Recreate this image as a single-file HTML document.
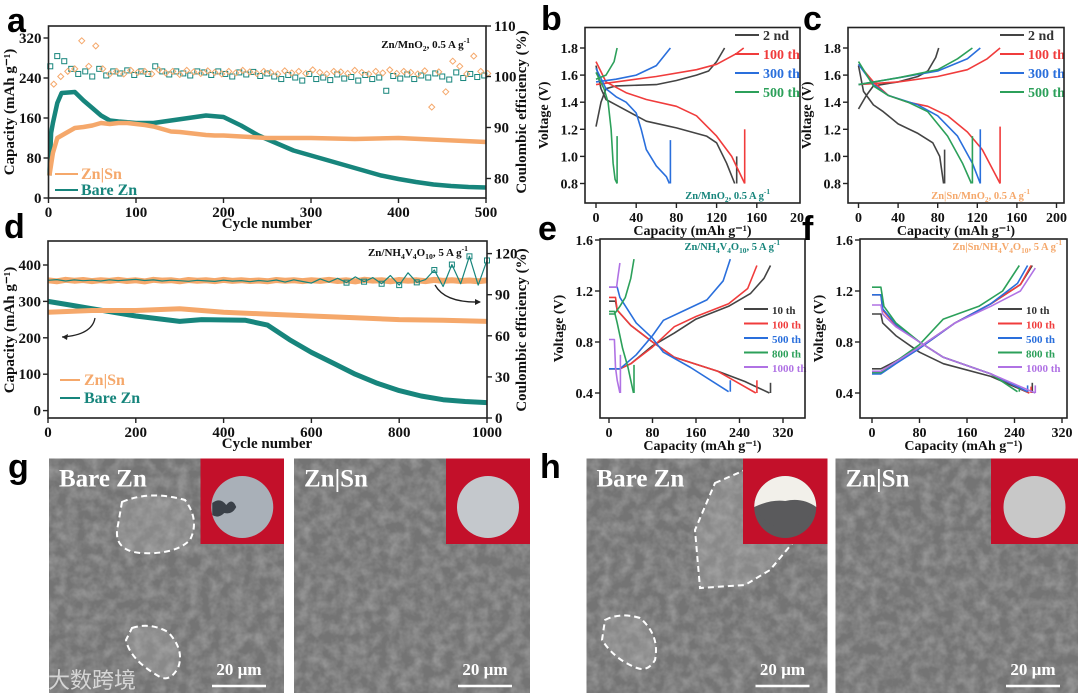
<!DOCTYPE html>
<html><head><meta charset="utf-8"><style>
html,body{margin:0;padding:0;background:#fff}
svg{display:block}
text{font-family:"Liberation Serif","Noto Serif CJK SC",serif;font-weight:bold}
.pl{font-family:"Liberation Sans",sans-serif;font-weight:bold;font-size:34px}
</style></head><body>
<svg id="fig" width="1080" height="697" viewBox="0 0 1080 697" xmlns="http://www.w3.org/2000/svg">
<defs>
<filter id="sem" x="0" y="0" width="100%" height="100%">
<feTurbulence type="fractalNoise" baseFrequency="0.09" numOctaves="3" seed="4"/>
<feColorMatrix type="matrix" values="0 0 0 0 0.45  0 0 0 0 0.45  0 0 0 0 0.45  0 0 0 1.1 -0.35"/>
</filter>
</defs>
<g id="charts"></g>
<g id="sems"></g>
</svg>
<script>
// ---------- DATA ----------
// panel a
const aSnCycles=[1,5,10,20,30,40,50,60,70,80,90,100,110,120,130,140,150,160,170,180,190,200,220,250,300,350,400,450,500];
const aSnCap=[45,90,120,130,140,142,145,150,148,150,150,148,146,143,138,133,132,130,128,126,125,125,123,120,120,118,120,116,112];
const aZnCycles=[1,3,5,10,15,30,40,50,60,70,80,100,120,140,160,180,200,220,240,260,280,300,320,340,360,380,400,420,440,460,480,500];
const aZnCap=[45,130,150,190,210,212,195,180,165,155,153,150,150,155,160,165,162,145,125,110,95,85,75,65,55,45,38,32,27,24,22,21];
const aCeOrange=[98.5,100,101,101.5,107,102,106,101.5,100.5,101,100.5,101.2,100.8,101,100.5,101.3,100.7,101,100.4,101.2,100.9,100.6,101.1,100.8,100.5,101,100.7,101.2,100.9,100.6,101,100.8,100.5,101.1,100.7,101,100.6,101.3,100.8,100.5,101,100.9,100.6,101.2,100.8,100.5,101,100.7,101.3,100.6,101,100.8,100.5,101.1,94,100.9,97,103,102,100.5,104,101,100.6];
const aCeTeal=[102,104,103,101.5,100.5,101,100,101.5,100.2,101,100.6,101.2,100.3,101,100.5,102,101,100.4,101,100.6,100.2,101,100.8,100.3,101,100.5,100,100.8,100.4,100.9,100.1,100.6,100,99.5,100.3,99.8,99.2,100.5,99.5,99.8,99.3,100.4,99.6,99.9,99.2,100.3,99.5,99.8,97.2,100.1,99.6,100.4,99.5,100.2,99.8,100.6,100,99.4,100.8,99.7,100.5,99.9,100.2];
// panel d
const dSnCycles=[0,100,200,300,400,500,600,700,800,900,1000];
const dSnCap=[270,275,275,280,270,265,260,255,250,248,245];
const dZnCycles=[0,50,100,200,300,350,450,500,550,600,650,700,750,800,850,900,950,1000];
const dZnCap=[300,290,280,260,245,250,248,235,195,160,130,100,75,55,40,30,25,22];
const dCeOrange=[100.5,99.8,100.9,100.2,100.7,99.9,100.6,100.1,100.8,100,100.5,99.7,100.9,100.3,100.6,99.8,100.7,100.2,100.5,99.9,100.8,100.1,100.6,100,100.4,99.8,100.7,100.2,100.5,99.9,100.6,100.1,100.8,100,100.5,99.7,100.9,100.3,100.6,99.8,100.7,100.2,100.5,99.9,100.8,100.1,100.6,100,100.4,99.8,100.5];
const dCeTeal=[100.5,101,100,100.8,100.2,100.6,100,100.9,100.3,100.7,101.2,100.4,100.8,100,100.6,100.2,99.8,100.5,100.1,99.7,100.6,99.9,100.3,99.5,100.4,99.8,100.7,99.2,100.9,99.6,98.5,101.5,99.2,102,98.8,103,99.5,102.5,98,104,97,106,99,101,108,96,112,98,118,97,115];
// panel b (Zn/MnO2) capacity / voltage
const bLabels=["2 nd","100 th","300 th","500 th"];
const bDisCap=[[0,5,10,20,40,50,80,110,120,130,138],[0,10,30,50,80,100,120,135,148],[0,10,20,30,40,45,50,60,70,73],[0,8,12,15,17,19,21]];
const bDisV=[[1.67,1.5,1.42,1.38,1.3,1.26,1.21,1.15,1.1,0.95,0.8],[1.7,1.55,1.47,1.42,1.37,1.3,1.15,1.0,0.8],[1.65,1.5,1.44,1.4,1.32,1.2,1.05,0.93,0.85,0.8],[1.62,1.5,1.4,1.2,0.95,0.83,0.8]];
const bChCap=[[0,5,10,20,60,80,100,112,120,128],[0,20,60,100,120,140,147],[0,20,40,60,74],[0,10,18,21]];
const bChV=[[1.22,1.4,1.5,1.52,1.53,1.56,1.6,1.63,1.7,1.8],[1.53,1.55,1.59,1.64,1.68,1.76,1.8],[1.55,1.57,1.6,1.67,1.8],[1.57,1.6,1.7,1.8]];
const bEndCap=[140,148,74,21];
const bEndV=[1.0,1.2,1.12,1.15];
// panel c (Zn|Sn/MnO2)
const cDisCap=[[0,5,15,25,40,60,75,82,86],[0,15,30,50,70,90,110,125,143],[0,15,30,60,80,100,115,123],[0,15,30,50,70,90,105,114]];
const cDisV=[[1.67,1.48,1.38,1.33,1.24,1.17,1.1,1.0,0.8],[1.68,1.55,1.45,1.4,1.37,1.3,1.18,1.05,0.8],[1.68,1.53,1.45,1.38,1.3,1.15,0.95,0.8],[1.7,1.52,1.45,1.4,1.33,1.15,0.95,0.8]];
const cChCap=[[0,8,15,40,60,70,78,81],[0,40,80,110,130,143],[0,40,80,110,123],[0,40,80,100,115]];
const cChV=[[1.35,1.45,1.52,1.55,1.59,1.63,1.73,1.8],[1.53,1.55,1.59,1.64,1.72,1.8],[1.53,1.58,1.63,1.72,1.8],[1.53,1.58,1.64,1.72,1.8]];
const cEndCap=[87,143,123,115];
const cEndV=[1.05,1.22,1.2,1.15];
// panel e (Zn/NH4V4O10)
const eLabels=["10 th","100 th","500 th","800 th","1000 th"];
const eDisCap=[[0,12,15,40,80,120,200,250,295],[0,12,15,40,80,120,200,270],[0,15,20,50,80,100,150,220],[0,10,15,25,35,45],[0,10,12,15,20]];
const eDisV=[[1.12,1.12,1.05,0.93,0.8,0.68,0.57,0.49,0.4],[1.15,1.15,1.05,0.93,0.8,0.68,0.57,0.4],[1.23,1.23,1.15,0.95,0.83,0.72,0.6,0.41],[1.04,1.04,0.95,0.75,0.6,0.4],[0.82,0.82,0.6,0.5,0.4]];
const eChCap=[[0,20,40,80,120,160,220,260,285,297],[0,20,40,80,120,160,220,255,272],[0,20,50,80,100,140,180,210,223],[0,10,20,30,40,46],[0,14,16,20]];
const eChV=[[0.59,0.59,0.63,0.77,0.87,0.98,1.08,1.18,1.3,1.4],[0.59,0.59,0.63,0.76,0.92,1.0,1.1,1.22,1.4],[0.59,0.59,0.7,0.85,0.97,1.05,1.13,1.28,1.45],[1.02,1.02,1.08,1.15,1.3,1.45],[1.23,1.23,1.3,1.42]];
const eEndCap=[297,272,223,46,21];
const eEndV=[0.48,0.5,0.5,0.62,0.7];
// panel f (Zn|Sn/NH4V4O10)
const fDisCap=[[0,15,18,40,80,120,200,265],[0,15,18,40,80,120,200,265],[0,15,18,40,80,120,200,262],[0,15,20,40,80,120,200,245],[0,15,18,40,80,120,200,275]];
const fDisV=[[1.02,1.02,0.95,0.85,0.72,0.63,0.53,0.4],[1.17,1.17,1.05,0.93,0.8,0.68,0.55,0.4],[1.17,1.17,1.06,0.94,0.8,0.68,0.55,0.41],[1.23,1.23,1.08,0.95,0.8,0.68,0.55,0.41],[1.09,1.09,1.02,0.92,0.8,0.68,0.55,0.4]];
const fChCap=[[0,15,40,80,140,200,250,270],[0,15,40,80,140,200,250,268],[0,15,40,80,140,200,245,262],[0,15,50,80,120,180,220,248],[0,15,80,140,200,250,275]];
const fChV=[[0.59,0.59,0.65,0.76,0.95,1.1,1.25,1.4],[0.57,0.57,0.64,0.75,0.95,1.1,1.25,1.4],[0.55,0.55,0.63,0.75,0.95,1.1,1.26,1.4],[0.56,0.56,0.68,0.78,0.98,1.08,1.2,1.4],[0.57,0.57,0.76,0.95,1.08,1.2,1.38]];
const fEndCap=[270,268,262,248,275];
const fEndV=[0.48,0.45,0.46,0.44,0.46];

// ---------- HELPERS ----------
const NS="http://www.w3.org/2000/svg";
const root=document.getElementById('charts');
function mk(tag,attrs,parent){const e=document.createElementNS(NS,tag);for(const k in attrs)e.setAttribute(k,attrs[k]);(parent||root).appendChild(e);return e;}
function scale(d0,d1,r0,r1){return v=>r0+(v-d0)*(r1-r0)/(d1-d0);}
function txt(x,y,s,size,fill,anchor,parent,name){const t=mk('text',{x:x,y:y,'font-size':size,fill:fill||'#111','text-anchor':anchor||'middle'},parent);t.textContent=s;return t;}
function polyline(xs,ys,sx,sy,color,w,parent,name){const p=mk('polyline',{points:xs.map((v,i)=>sx(v).toFixed(1)+','+sy(ys[i]).toFixed(1)).join(' '),fill:'none',stroke:color,'stroke-width':w,'stroke-linejoin':'round'},parent);return p;}
function frame(x0,y0,x1,y1,name){const r=mk('rect',{x:x0,y:y0,width:x1-x0,height:y1-y0,fill:'none',stroke:'#222','stroke-width':1.6});}
function xTicks(vals,sx,y,labels,g,sz){vals.forEach((v,i)=>{mk('line',{x1:sx(v),x2:sx(v),y1:y,y2:y+5,stroke:'#222','stroke-width':1.4},g);txt(sx(v),y+19,labels[i],sz||15,'#111','middle',g,'x-tick-label');});}
function yTicks(vals,sy,x,labels,g,side,sz){vals.forEach((v,i)=>{const d=side==='r'?5:-5;mk('line',{x1:x,x2:x+d,y1:sy(v),y2:sy(v),stroke:'#222','stroke-width':1.4},g);txt(x+(side==='r'?8:-7),sy(v)+5,labels[i],sz||15,'#111',side==='r'?'start':'end',g,'y-tick-label');});}
function vtitle(x,y,s,g,name,sz){const t=txt(x,y,s,sz||15,'#111','middle',g,name);t.setAttribute('transform','rotate(-90 '+x+' '+y+')');return t;}
function panelLetter(x,y,s){const t=mk('text',{x:x,y:y,class:'pl',fill:'#000'});t.textContent=s;}
function subText(x,y,parts,size,fill,anchor,g,name){const t=mk('text',{x:x,y:y,'font-size':size,fill:fill,'text-anchor':anchor||'start'},g);parts.forEach(p=>{const ts=document.createElementNS(NS,'tspan');if(p[1]==='sub'){ts.setAttribute('font-size',size*0.7);ts.setAttribute('dy',3);}else if(p[1]==='sup'){ts.setAttribute('font-size',size*0.7);ts.setAttribute('dy',-5);}else if(p[1]==='back'){ts.setAttribute('dy',p[2]);}ts.textContent=p[0];t.appendChild(ts);});return t;}

const ORANGE='#f5a86b',TEAL='#17857c';
const VCOL=['#444444','#f03c3c','#2a6fdc','#2ca05a','#b072e4'];

// ---------- PANEL A ----------
(function(){
 const g=mk('g',{});
 const sx=scale(0,500,48.5,486),sy=scale(0,320,198,38),sr=scale(100,90,76.5,127.5);
 // CE scatter
 aCeTeal.forEach((v,i)=>{const r=mk('rect',{x:sx(2+i*8)-2.5,y:sr(v)-2.5,width:5,height:5,fill:'none',stroke:TEAL,'stroke-width':1},g);});
 aCeOrange.forEach((v,i)=>{const x=sx(6+i*8),y=sr(v);const r=mk('path',{d:`M${x},${y-3}L${x+3},${y}L${x},${y+3}L${x-3},${y}Z`,fill:'none',stroke:ORANGE,'stroke-width':1},g);});
 polyline(aZnCycles,aZnCap,sx,sy,TEAL,4.5,g,'capacity-bare-zn-line');
 polyline(aSnCycles,aSnCap,sx,sy,ORANGE,4.5,g,'capacity-zn-sn-line');
 frame(48.5,26,486,198,'plot-frame-a');
 xTicks([0,100,200,300,400,500],sx,198,['0','100','200','300','400','500'],g);
 yTicks([0,80,160,240,320],sy,48.5,['0','80','160','240','320'],g,'l');
 yTicks([80,90,100,110],v=>v===110?26:sr(v),486,['80','90','100','110'],g,'r');
 txt(267,228,'Cycle number',15,'#111','middle',g,'x-axis-title-a');
 vtitle(14,112,'Capacity (mAh g\u207B\u00B9)',g,'y-axis-title-a');
 vtitle(526,112,'Coulombic efficiency (%)',g,'y2-axis-title-a');
 subText(470,48,[['Zn/MnO'],['2','sub'],[', 0.5 A g','back',-3],['-1','sup']],11,'#111','end',g,'condition-note-a');
 mk('line',{x1:55,x2:78,y1:174,y2:174,stroke:ORANGE,'stroke-width':2},g);
 txt(81,179,'Zn|Sn',16,ORANGE,'start',g,'legend-zn-sn');
 mk('line',{x1:55,x2:78,y1:190,y2:190,stroke:TEAL,'stroke-width':2},g);
 txt(81,195,'Bare Zn',16,TEAL,'start',g,'legend-bare-zn');
})();
panelLetter(7,32,'a');

// ---------- PANEL D ----------
(function(){
 const g=mk('g',{});
 const sx=scale(0,1000,48,487),sy=scale(0,400,410.6,265),sr=scale(0,120,418,253.6);
 polyline(dCeOrange.map((_,i)=>i*20),dCeOrange,sx,sr,ORANGE,6,g,'ce-zn-sn-band');
 polyline(dCeTeal.map((_,i)=>i*20),dCeTeal,sx,sr,TEAL,1.2,g,'ce-bare-zn-line');
 dCeTeal.forEach((v,i)=>{if(i>33&&i%2===0){const r=mk('rect',{x:sx(i*20)-2.5,y:sr(v)-2.5,width:5,height:5,fill:'none',stroke:TEAL,'stroke-width':1},g);}});
 polyline(dZnCycles,dZnCap,sx,sy,TEAL,5,g,'capacity-bare-zn-line');
 polyline(dSnCycles,dSnCap,sx,sy,ORANGE,5,g,'capacity-zn-sn-line');
 frame(48,241,487,418,'plot-frame-d');
 xTicks([0,200,400,600,800,1000],sx,418,['0','200','400','600','800','1000'],g);
 yTicks([0,100,200,300,400],sy,48,['0','100','200','300','400'],g,'l');
 yTicks([0,30,60,90,120],sr,487,['0','30','60','90','120'],g,'r');
 txt(267,448,'Cycle number',15,'#111','middle',g,'x-axis-title-d');
 vtitle(14,330,'Capacity (mAh g\u207B\u00B9)',g,'y-axis-title-d');
 vtitle(526,330,'Coulombic efficiency (%)',g,'y2-axis-title-d');
 subText(468,256,[['Zn/NH'],['4','sub'],['V','back',-3],['4','sub'],['O','back',-3],['10','sub'],[', 5 A g','back',-3],['-1','sup']],11,'#111','end',g,'condition-note-d');
 const a1=mk('path',{d:'M95,318 Q92,335 62,337',fill:'none',stroke:'#222','stroke-width':1.3},g);
 mk('path',{d:'M62,337 l6,-3 l-1,6z',fill:'#222'},g);
 const a2=mk('path',{d:'M435,285 Q445,303 480,302',fill:'none',stroke:'#222','stroke-width':1.3},g);
 mk('path',{d:'M481,302 l-6,-3 l0,6z',fill:'#222'},g);
 mk('line',{x1:60,x2:80,y1:380,y2:380,stroke:ORANGE,'stroke-width':2},g);
 txt(84,385,'Zn|Sn',16,ORANGE,'start',g,'legend-zn-sn');
 mk('line',{x1:60,x2:80,y1:398,y2:398,stroke:TEAL,'stroke-width':2},g);
 txt(84,403,'Bare Zn',16,TEAL,'start',g,'legend-bare-zn');
})();
panelLetter(4,238,'d');

// ---------- VOLTAGE PANELS ----------
function vPanel(cfg){
 const g=mk('g',{});
 const sx=scale(0,cfg.xmax,cfg.x0,cfg.xm),sy=scale(cfg.v0,cfg.v1,cfg.y0,cfg.y1);
 cfg.dc.forEach((cs,i)=>{
  polyline(cs,cfg.dv[i],sx,sy,VCOL[i],1.6,g,'discharge-curve-'+cfg.labels[i].replace(' ',''));
  polyline(cfg.cc[i],cfg.cv[i],sx,sy,VCOL[i],1.6,g,'charge-curve-'+cfg.labels[i].replace(' ',''));
  polyline([cfg.ec[i],cfg.ec[i]],[cfg.dv[i][cfg.dv[i].length-1],cfg.ev[i]],sx,sy,VCOL[i],1.6,g,'relaxation-'+cfg.labels[i].replace(' ',''));
 });
 frame(cfg.fx0,cfg.fy0,cfg.fx1,cfg.fy1,'plot-frame');
 xTicks(cfg.xt,sx,cfg.fy1,cfg.xl,g,14);
 yTicks(cfg.yt,sy,cfg.fx0,cfg.yl,g,'l',14);
 txt((cfg.fx0+cfg.fx1)/2,cfg.fy1+32,'Capacity (mAh g\u207B\u00B9)',14,'#111','middle',g,'x-axis-title');
 vtitle(cfg.fx0-37,(cfg.fy0+cfg.fy1)/2,'Voltage (V)',g,'y-axis-title',14);
 cfg.labels.forEach((s,i)=>{mk('line',{x1:cfg.lx,x2:cfg.lx+24,y1:cfg.ly+i*cfg.ld,y2:cfg.ly+i*cfg.ld,stroke:VCOL[i],'stroke-width':2},g);txt(cfg.lx+28,cfg.ly+i*cfg.ld+5,s,cfg.lsz,VCOL[i]==='#444444'?'#333':VCOL[i],'start',g,'legend-'+s.replace(' ',''));});
 subText(cfg.nx,cfg.ny,cfg.note,10.5,cfg.ncol,'end',g,'condition-note');
 if(cfg.clipText) txt(cfg.fx1-3,cfg.fy1+19,cfg.clipText,14,'#111','middle',g,'x-tick-label');
}
const mno2b=[['Zn/MnO'],['2','sub'],[', 0.5 A g','back',-3],['-1','sup']];
const mno2c=[['Zn|Sn/MnO'],['2','sub'],[', 0.5 A g','back',-3],['-1','sup']];
const nvo=[['4','sub'],['V','back',-3],['4','sub'],['O','back',-3],['10','sub'],[', 5 A g','back',-3],['-1','sup']];
vPanel({name:'panel-b',xmax:200,x0:596,xm:797,v0:0.8,v1:1.8,y0:183.5,y1:48,fx0:585,fy0:27.5,fx1:800,fy1:203,dc:bDisCap,dv:bDisV,cc:bChCap,cv:bChV,ec:bEndCap,ev:bEndV,labels:bLabels,xt:[0,40,80,120,160],xl:['0','40','80','120','160'],yt:[0.8,1.0,1.2,1.4,1.6,1.8],yl:['0.8','1.0','1.2','1.4','1.6','1.8'],lx:735,ly:35,ld:19,lsz:14,nx:770,ny:199,note:mno2b,ncol:TEAL,clipText:'20'});
vPanel({name:'panel-c',xmax:200,x0:858.5,xm:1056.5,v0:0.8,v1:1.8,y0:183.5,y1:48,fx0:848,fy0:27.5,fx1:1064,fy1:203,dc:cDisCap,dv:cDisV,cc:cChCap,cv:cChV,ec:cEndCap,ev:cEndV,labels:bLabels,xt:[0,40,80,120,160,200],xl:['0','40','80','120','160','200'],yt:[0.8,1.0,1.2,1.4,1.6,1.8],yl:['0.8','1.0','1.2','1.4','1.6','1.8'],lx:1000,ly:35,ld:19,lsz:14,nx:1030,ny:199,note:mno2c,ncol:ORANGE});
vPanel({name:'panel-e',xmax:320,x0:609,xm:783,v0:0.4,v1:1.6,y0:393,y1:240,fx0:600,fy0:239,fx1:805,fy1:418,dc:eDisCap,dv:eDisV,cc:eChCap,cv:eChV,ec:eEndCap,ev:eEndV,labels:eLabels,xt:[0,80,160,240,320],xl:['0','80','160','240','320'],yt:[0.4,0.8,1.2,1.6],yl:['0.4','0.8','1.2','1.6'],lx:744,ly:309,ld:14.5,lsz:11,nx:780,ny:250,note:[['Zn/NH']].concat(nvo),ncol:TEAL});
vPanel({name:'panel-f',xmax:320,x0:872,xm:1062,v0:0.4,v1:1.6,y0:393,y1:240,fx0:860,fy0:239,fx1:1067,fy1:418,dc:fDisCap,dv:fDisV,cc:fChCap,cv:fChV,ec:fEndCap,ev:fEndV,labels:eLabels,xt:[0,80,160,240,320],xl:['0','80','160','240','320'],yt:[0.4,0.8,1.2,1.6],yl:['0.4','0.8','1.2','1.6'],lx:998,ly:309,ld:14.5,lsz:11,nx:1062,ny:250,note:[['Zn|Sn/NH']].concat(nvo),ncol:ORANGE});
panelLetter(541,30,'b');panelLetter(803,30,'c');panelLetter(538,240,'e');panelLetter(802,240,'f');

// ---------- SEM IMAGES ----------
const sems=document.getElementById('sems');
function sem(x0,x1,label,inset,name,dash,coin){
 const g=mk('g',{},sems);
 const y0=458.5,y1=693;
 mk('rect',{x:x0,y:y0,width:x1-x0,height:y1-y0,fill:'#747474'},g);
 mk('rect',{x:x0,y:y0,width:x1-x0,height:y1-y0,filter:'url(#sem)',opacity:0.9},g);
 dash.forEach(d=>{const p=mk('path',{d:d,fill:'rgba(200,200,200,0.25)',stroke:'#fff','stroke-width':2,'stroke-dasharray':'6 4'},g);});
 const r=mk('rect',{x:inset,y:y0,width:x1-inset,height:85.5,fill:'#c3102a'},g);
 const cx=(inset+x1)/2,cy=507;
 const c=mk('circle',{cx:cx,cy:cy,r:31,fill:coin},g);
 if(name==='sem-g-bare-zn'){mk('path',{d:`M${cx-30},${cy-4} q8,-6 14,2 q6,-8 10,2 q-4,8 -12,6 q-6,6 -12,2z`,fill:'#3a4048'},g);}
 if(name==='sem-h-bare-zn'){mk('path',{d:`M${cx-31},${cy-6} q18,-6 30,-4 q16,-6 31,6 a31,31 0 0 1 -61,-2z`,fill:'#5a5a5c'},g);mk('path',{d:`M${cx-31},${cy} a31,31 0 0 1 62,0 q-14,-10 -31,-6 q-14,-2 -31,6z`,fill:'#f2f0ea'},g);}
 txt(x0+10,y0+28,label,25,'#fff','start',g,'sem-label');
 txt(x1-45,y1-18,'20 \u00B5m',17,'#fff','middle',g,'scale-bar-text');
 mk('line',{x1:x1-72,x2:x1-18,y1:y1-7,y2:y1-7,stroke:'#fff','stroke-width':2.5},g);
}
sem(49,284,'Bare Zn',200.5,'sem-g-bare-zn',['M122,502 Q150,490 185,500 Q200,520 190,540 Q175,555 140,553 Q112,550 118,525Z','M132,628 Q150,622 168,632 Q185,650 178,668 Q170,682 160,677 Q130,660 126,640Z'],'#a9b0b8');
sem(294,530,'Zn|Sn',446,'sem-g-zn-sn',[],'#c4c8cc');
sem(586.5,827.5,'Bare Zn',743,'sem-h-bare-zn',['M715,483 L745,470 L790,478 L795,540 L770,570 L745,585 L700,588 L695,530Z','M605,620 Q620,612 640,618 Q660,635 655,660 Q648,672 637,668 Q615,660 602,640Z'],'#5a5a5c');
sem(835.5,1078,'Zn|Sn',991,'sem-h-zn-sn',[],'#c8c8c8');
panelLetter(8,478,'g');panelLetter(540,478,'h');
// watermark
const wm=txt(48,688,'\u5927\u6570\u8de8\u5883',22,'rgba(235,235,235,0.8)','start',sems,'watermark');
wm.setAttribute('style','font-family:"Liberation Sans","Noto Sans CJK SC",sans-serif;font-weight:normal');
</script>
</body></html>
